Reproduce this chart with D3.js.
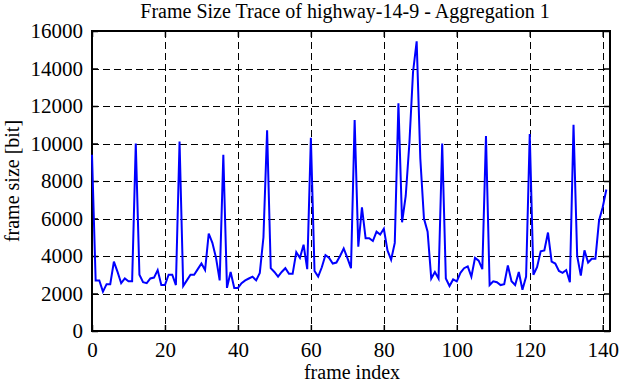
<!DOCTYPE html>
<html><head><meta charset="utf-8">
<script src="https://cdn.jsdelivr.net/npm/d3@7"></script>
<style>body{margin:0;background:#fff}svg{display:block}
text{font-family:"Liberation Serif","Times New Roman",serif;}</style>
</head><body>
<svg id="c" width="619" height="382"></svg>
<script>
const title = "Frame Size Trace of highway-14-9 - Aggregation 1";
const xLabel = "frame index";
const yLabel = "frame size [bit]";
const xTicks = [0,20,40,60,80,100,120,140];
const yTicks = [0,2000,4000,6000,8000,10000,12000,14000,16000];
const frameSize = [
9400,2700,2700,2100,2500,2500,3700,3150,2550,2800,
2650,2650,10000,3000,2600,2550,2800,2850,3250,2450,
2450,3000,3000,2450,10100,2400,2700,3000,3000,3300,
3600,3250,5200,4700,3900,2700,9400,2300,3150,2300,
2300,2550,2700,2800,2900,2700,3100,5000,10700,3350,
3150,2900,3150,3350,3050,3050,4200,3900,4600,3300,
10300,3200,2900,3400,4050,3900,3600,3650,4000,4400,
3900,3350,11250,4500,6600,4950,4950,4800,5300,5150,
5450,4300,3800,4700,12150,5800,7200,10000,13800,15450,
9200,6000,5300,2800,3150,2800,10000,2800,2400,2750,
2650,3100,3350,3450,2900,3900,3750,3300,10400,2450,
2650,2600,2450,2500,3500,2650,2450,3150,2200,2900,
10500,3000,3400,4250,4300,5250,3700,3600,3200,3100,
3250,2600,11000,4000,2950,4300,3650,3850,3850,5900,
6600,7550];
const frameIndex = frameSize.map((d,i)=>i);

const L=92,R=610,T=31,B=331;
const svg=d3.select("#c");
const x=d3.scaleLinear().domain([0,142]).range([L,R]);
const y=d3.scaleLinear().domain([0,16000]).range([B,T]);
const font="Liberation Serif";
const fmt=d3.format("d");

// grid
svg.append("g").selectAll("line").data(xTicks.filter(d=>d>0)).join("line")
  .attr("x1",d=>Math.round(x(d))+0.5).attr("x2",d=>Math.round(x(d))+0.5)
  .attr("y1",T).attr("y2",B).attr("stroke","#000").attr("stroke-width",1)
  .attr("stroke-dasharray","7,4");
svg.append("g").selectAll("line").data(yTicks.filter(d=>d>0&&d<16000)).join("line")
  .attr("y1",d=>Math.round(y(d))+0.5).attr("y2",d=>Math.round(y(d))+0.5)
  .attr("x1",L).attr("x2",R).attr("stroke","#000").attr("stroke-width",1)
  .attr("stroke-dasharray","7,4");

// axes with inner ticks
const ax=(g)=>{
  g.attr("font-family",font).attr("font-size",21);
  g.selectAll(".domain").remove();
  g.selectAll("line").attr("stroke","#000").attr("stroke-width",1.5);
  g.selectAll("text").attr("fill","#000");
};
svg.append("g").attr("transform",`translate(0,${B})`)
  .call(d3.axisBottom(x).tickValues(xTicks).tickFormat(fmt).tickSizeInner(-6).tickSizeOuter(0).tickPadding(11))
  .call(ax);
svg.append("g").attr("transform",`translate(0,${T})`)
  .call(d3.axisTop(x).tickValues(xTicks).tickSizeInner(-6).tickSizeOuter(0).tickFormat(""))
  .call(ax);
svg.append("g").attr("transform",`translate(${L},0)`)
  .call(d3.axisLeft(y).tickValues(yTicks).tickFormat(fmt).tickSizeInner(-6).tickSizeOuter(0).tickPadding(9))
  .call(ax);
svg.append("g").attr("transform",`translate(${R},0)`)
  .call(d3.axisRight(y).tickValues(yTicks).tickSizeInner(-6).tickSizeOuter(0).tickFormat(""))
  .call(ax);

// frame
svg.append("rect").attr("x",L).attr("y",T).attr("width",R-L).attr("height",B-T)
  .attr("fill","none").attr("stroke","#000").attr("stroke-width",2);

// data line
svg.append("path").datum(frameSize)
  .attr("d",d3.line().x((d,i)=>x(frameIndex[i])).y(d=>y(d)))
  .attr("fill","none").attr("stroke","#0000ff").attr("stroke-width",2).attr("stroke-linejoin","miter");

// labels
svg.append("text").attr("x",345).attr("y",18).attr("text-anchor","middle")
  .attr("font-family",font).attr("font-size",20).text(title);
svg.append("text").attr("x",352).attr("y",379).attr("text-anchor","middle")
  .attr("font-family",font).attr("font-size",20).text(xLabel);
svg.append("text").attr("transform","translate(19,181) rotate(-90)").attr("text-anchor","middle")
  .attr("font-family",font).attr("font-size",20).text(yLabel);
</script>
</body></html>
